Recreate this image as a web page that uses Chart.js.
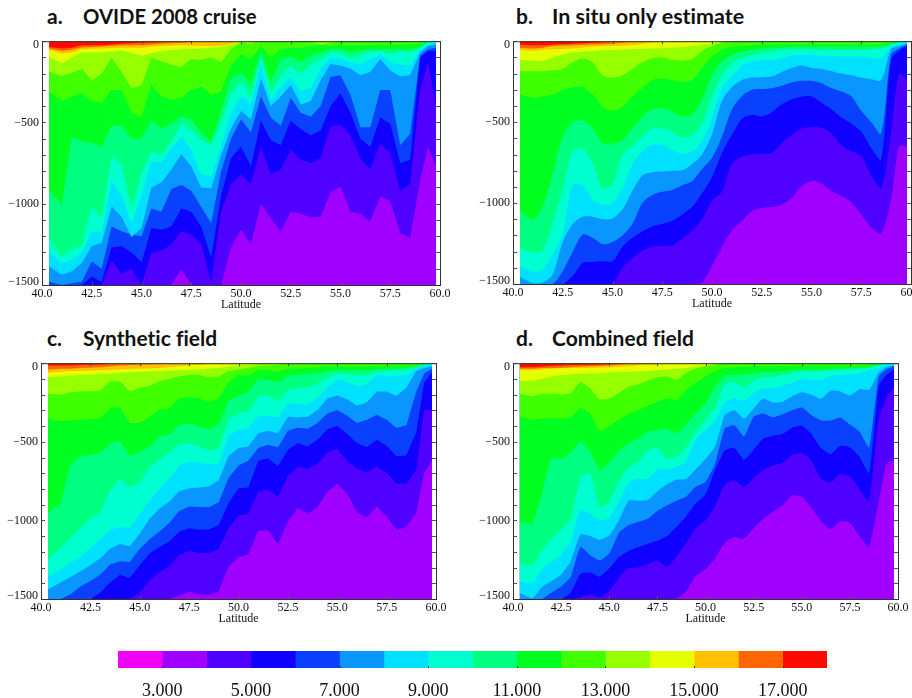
<!DOCTYPE html>
<html>
<head>
<meta charset="utf-8">
<style>
html, body { margin: 0; padding: 0; background: #fff; overflow: hidden; width: 912px; height: 698px; }
canvas { position: absolute; }
.ttl { position: absolute; font: bold 21px Lato, "Open Sans", sans-serif; color: #111; white-space: pre; line-height: 24px; font-variant-ligatures: none; }
</style>
</head>
<body>
<div class="ttl" style="left:47px;top:4px">a.</div><div class="ttl" style="left:83px;top:4px;font-size:20.3px">OVIDE 2008 cruise</div>
<div class="ttl" style="left:516px;top:4px">b.</div><div class="ttl" style="left:552px;top:4px;font-size:21.5px">In situ only estimate</div>
<div class="ttl" style="left:47px;top:326px">c.</div><div class="ttl" style="left:83px;top:326px">Synthetic field</div>
<div class="ttl" style="left:516px;top:326px">d.</div><div class="ttl" style="left:552px;top:326px">Combined field</div>
<canvas id="panelA"></canvas>
<canvas id="panelB"></canvas>
<canvas id="panelC"></canvas>
<canvas id="panelD"></canvas>
<canvas id="colorbar"></canvas>
<script src="https://cdn.jsdelivr.net/npm/chart.js@4/dist/chart.umd.min.js"></script>
<script>
// latitude grids: deep isotherms use lat, the thin surface ones latTop
const lat = [40.35,41,41.5,42,42.5,43,43.5,44,44.5,45,45.5,46,46.5,47,47.5,48,48.5,49,49.5,50,50.5,51,51.5,52,52.5,53,53.5,54,54.5,55,55.5,56,56.5,57,57.5,58,58.5,59,59.4,59.8];
const latTop = [40.35,41,41.5,42,43,44,45,46,47,48,49,50,51,59.8];
const latEnds = [40.35,59.8];
const floor3 = [-1500,-1500];

// colour scale, one band per degree
const bandEdges = [2,3,4,5,6,7,8,9,10,11,12,13,14,15,16,17,18];
const bandColors = ['#f000f5','#a000ff','#5000ff','#1000ff','#0a40ff','#0a96ff','#00e0ff','#00ffd0','#00ff80','#00ff20','#40ff00','#96ff00','#e6ff00','#ffc000','#ff6600','#ff0a00'];
const barTicks = [3,5,7,9,11,13,15,17];

// panel a, depth of each isotherm
const a17 = [-35,-45,-40,-25,-25,-15,-10,-5,0,0,0,0,0,0];
const a16 = [-45,-60,-52,-38,-32,-25,-25,-15,-10,0,0,0,0,0];
const a15 = [-55,-75,-70,-50,-45,-40,-40,-30,-25,-30,-30,0,0,0];
const a14 = [-95,-135,-100,-70,-70,-55,-90,-60,-50,-45,-35,-5,0,0];
const a13 = [-185,-215,-195,-170,-240,-200,-100,-190,-290,-270,-100,-125,-145,-160,-110,-115,-100,-130,-50,-10,-15,0,0,0,0,0,0,-20,-10,0,0,0,0,0,0,0,0,0,0,0];
const a12 = [-310,-370,-340,-320,-370,-380,-300,-300,-440,-465,-270,-340,-360,-350,-300,-280,-330,-310,-150,-80,-110,-30,-100,-50,-40,-40,-30,-25,-30,-25,-25,-25,-25,-20,-25,-20,-20,-15,0,0];
const a11 = [-915,-1005,-590,-615,-625,-650,-520,-520,-600,-600,-490,-535,-505,-460,-480,-560,-620,-430,-230,-195,-260,-65,-250,-110,-95,-130,-85,-70,-50,-50,-65,-55,-50,-50,-50,-50,-50,-35,0,0];
const a10 = [-1210,-1325,-1280,-1260,-1020,-1090,-710,-760,-1030,-810,-680,-700,-620,-505,-550,-610,-640,-500,-320,-250,-340,-95,-320,-210,-150,-200,-145,-110,-70,-70,-110,-85,-60,-60,-80,-60,-70,-40,-5,0];
const a9 = [-1295,-1365,-1345,-1300,-1170,-1180,-860,-950,-1120,-950,-740,-750,-660,-590,-670,-820,-830,-650,-440,-340,-390,-145,-360,-280,-220,-310,-290,-170,-100,-110,-130,-145,-110,-80,-130,-145,-150,-55,-20,-10];
const a8 = [-1385,-1437,-1416,-1365,-1260,-1240,-1017,-1080,-1205,-1150,-900,-870,-790,-695,-770,-900,-905,-700,-535,-430,-480,-230,-400,-340,-270,-390,-370,-240,-140,-150,-170,-210,-190,-110,-180,-215,-210,-70,-30,-20];
const a7 = [-1480,-1500,-1490,-1480,-1355,-1400,-1140,-1170,-1190,-1200,-1030,-1050,-910,-885,-920,-1020,-1120,-800,-600,-480,-560,-340,-470,-520,-350,-440,-465,-400,-220,-210,-330,-530,-530,-300,-300,-640,-570,-90,-50,-40];
const a6 = [-1500,-1500,-1500,-1500,-1450,-1480,-1270,-1260,-1300,-1360,-1150,-1160,-1140,-1030,-1050,-1140,-1330,-950,-720,-650,-770,-490,-610,-640,-490,-540,-580,-550,-400,-320,-440,-600,-650,-470,-510,-750,-730,-100,-60,-60];
const a5 = [-1500,-1500,-1500,-1500,-1500,-1500,-1350,-1430,-1400,-1500,-1300,-1290,-1250,-1170,-1190,-1250,-1480,-1050,-880,-820,-880,-650,-820,-790,-670,-730,-750,-720,-525,-515,-580,-720,-790,-630,-690,-920,-880,-300,-130,-400];
const a4 = [-1500,-1500,-1500,-1500,-1500,-1500,-1500,-1500,-1500,-1500,-1500,-1500,-1500,-1400,-1500,-1500,-1500,-1500,-1270,-1160,-1250,-1000,-1090,-1170,-1050,-1060,-1085,-1080,-930,-895,-1050,-1060,-1110,-955,-985,-1180,-1210,-860,-650,-770];

// panel b
const b17 = [-20,-25,-25,-20,-15,-10,-3,0,0,0,0,0,0,0];
const b16 = [-40,-45,-40,-30,-25,-20,-15,-5,0,0,0,0,0,0];
const b15 = [-55,-60,-55,-50,-45,-35,-30,-25,-8,0,0,0,0,0];
const b14 = [-115,-120,-120,-100,-70,-60,-55,-50,-45,-40,-30,-15,0,0];
const b13 = [-185,-185,-185,-180,-170,-130,-105,-130,-210,-225,-210,-170,-130,-105,-100,-115,-120,-110,-60,-30,-10,0,0,0,0,0,0,0,0,0,0,0,0,0,0,0,0,0,0,0];
const b12 = [-330,-350,-340,-330,-300,-285,-285,-330,-405,-430,-405,-340,-290,-240,-230,-240,-250,-240,-165,-95,-55,-35,-30,-25,-20,-20,-20,-20,-20,-20,-20,-20,-20,-20,-20,-20,-20,-10,0,0];
const b11 = [-1050,-1105,-1020,-815,-590,-500,-490,-540,-630,-635,-610,-540,-465,-420,-415,-435,-465,-455,-360,-210,-125,-85,-65,-55,-45,-40,-40,-35,-35,-35,-35,-35,-35,-35,-35,-35,-30,-15,0,0];
const b10 = [-1280,-1305,-1290,-1125,-920,-680,-665,-755,-910,-880,-700,-650,-590,-540,-540,-560,-595,-580,-505,-340,-210,-135,-105,-85,-75,-65,-55,-50,-50,-50,-55,-55,-55,-55,-55,-50,-45,-25,-10,0];
const b9 = [-1392,-1425,-1410,-1320,-1190,-888,-890,-980,-1010,-1000,-910,-760,-680,-640,-640,-670,-695,-680,-620,-470,-290,-220,-150,-125,-120,-115,-105,-90,-85,-85,-90,-90,-95,-95,-95,-100,-105,-35,-20,-10];
const b8 = [-1455,-1495,-1490,-1440,-1240,-1130,-1085,-1085,-1100,-1095,-1040,-925,-830,-810,-805,-800,-798,-760,-700,-575,-370,-285,-240,-225,-222,-218,-190,-165,-150,-165,-170,-185,-200,-210,-225,-235,-240,-50,-30,-15];
const b7 = [-1500,-1500,-1500,-1500,-1420,-1300,-1195,-1215,-1255,-1240,-1200,-1130,-1000,-950,-930,-920,-890,-865,-790,-720,-590,-420,-340,-300,-295,-290,-275,-255,-245,-245,-260,-290,-310,-340,-430,-500,-570,-85,-45,-20];
const b6 = [-1500,-1500,-1500,-1500,-1500,-1450,-1370,-1365,-1360,-1360,-1270,-1215,-1175,-1145,-1130,-1110,-1070,-1025,-940,-840,-690,-580,-480,-455,-465,-440,-390,-360,-342,-342,-380,-420,-470,-510,-560,-660,-730,-115,-60,-30];
const b5 = [-1500,-1500,-1500,-1500,-1500,-1500,-1500,-1500,-1500,-1500,-1400,-1340,-1295,-1270,-1265,-1262,-1220,-1170,-1100,-985,-930,-760,-715,-700,-695,-690,-630,-580,-540,-530,-535,-570,-645,-680,-710,-830,-905,-568,-200,-240];
const b4 = [-1500,-1500,-1500,-1500,-1500,-1500,-1500,-1500,-1500,-1500,-1500,-1500,-1500,-1500,-1500,-1500,-1500,-1500,-1490,-1390,-1270,-1170,-1110,-1050,-1030,-1025,-1010,-970,-895,-863,-880,-925,-955,-995,-1070,-1150,-1185,-980,-650,-650];

// panel c
const c17 = [-15,-15,-15,-12,-8,0,0,0,0,0,0,0,0,0];
const c16 = [-40,-35,-35,-30,-25,-15,-10,-5,0,0,0,0,0,0];
const c15 = [-60,-55,-50,-50,-45,-40,-35,-30,-20,-10,0,0,0,0];
const c14 = [-90,-85,-80,-75,-70,-60,-55,-50,-45,-40,-30,-15,-5,0];
const c13 = [-195,-200,-185,-180,-178,-175,-115,-115,-180,-155,-145,-115,-100,-85,-75,-75,-90,-85,-50,-40,-30,-20,-15,-10,-5,0,0,0,0,0,0,0,0,0,0,0,0,0,0,0];
const c12 = [-350,-370,-365,-360,-355,-350,-285,-280,-380,-380,-340,-295,-285,-225,-215,-225,-245,-225,-120,-75,-80,-45,-45,-55,-35,-35,-30,-25,-20,-20,-20,-20,-20,-18,-15,-15,-15,-10,0,0];
const c11 = [-954,-890,-640,-590,-585,-570,-510,-495,-590,-565,-530,-465,-455,-395,-385,-405,-420,-390,-240,-205,-180,-100,-105,-125,-80,-70,-70,-60,-50,-45,-45,-45,-45,-40,-35,-35,-30,-20,0,0];
const c10 = [-1250,-1175,-1110,-1049,-990,-950,-810,-735,-790,-760,-660,-610,-570,-515,-510,-530,-555,-540,-355,-318,-310,-210,-205,-240,-170,-160,-155,-130,-90,-65,-70,-80,-75,-55,-50,-45,-40,-30,-15,0];
const c9 = [-1356,-1310,-1270,-1229,-1175,-1120,-1060,-1040,-1049,-960,-875,-800,-735,-650,-625,-632,-645,-640,-460,-425,-410,-339,-333,-345,-255,-260,-262,-222,-155,-105,-120,-145,-135,-75,-80,-85,-75,-35,-20,-10];
const c8 = [-1440,-1395,-1360,-1324,-1285,-1240,-1180,-1150,-1165,-1085,-990,-925,-880,-815,-795,-790,-785,-745,-590,-540,-530,-445,-430,-445,-340,-345,-340,-297,-225,-205,-230,-270,-250,-180,-180,-208,-155,-50,-30,-20];
const c7 = [-1500,-1500,-1470,-1420,-1385,-1345,-1280,-1260,-1265,-1180,-1120,-1070,-1015,-940,-912,-915,-917,-885,-730,-650,-620,-540,-519,-535,-430,-410,-417,-381,-320,-297,-335,-380,-360,-328,-360,-413,-395,-180,-65,-35];
const c6 = [-1500,-1500,-1500,-1500,-1500,-1460,-1395,-1345,-1367,-1285,-1210,-1170,-1135,-1070,-1050,-1060,-1058,-1030,-890,-795,-790,-621,-604,-655,-550,-510,-530,-487,-420,-400,-450,-510,-535,-487,-525,-593,-585,-440,-127,-55];
const c5 = [-1500,-1500,-1500,-1500,-1500,-1500,-1500,-1500,-1500,-1460,-1380,-1330,-1290,-1220,-1195,-1208,-1208,-1180,-1050,-970,-960,-816,-805,-850,-720,-660,-670,-640,-570,-545,-625,-670,-695,-657,-699,-767,-767,-680,-300,-297];
const c4 = [-1500,-1500,-1500,-1500,-1500,-1500,-1500,-1500,-1500,-1500,-1500,-1500,-1500,-1480,-1452,-1470,-1475,-1450,-1293,-1235,-1215,-1066,-1065,-1150,-1010,-920,-960,-915,-820,-767,-830,-950,-980,-911,-975,-1060,-1040,-950,-700,-615];

// panel d
const d17 = [-25,-25,-22,-18,-12,-10,-5,0,0,0,0,0,0,0];
const d16 = [-35,-35,-30,-30,-25,-20,-15,-5,0,0,0,0,0,0];
const d15 = [-45,-45,-40,-35,-30,-30,-28,-20,-10,-5,0,0,0,0];
const d14 = [-115,-110,-100,-85,-70,-65,-60,-55,-50,-40,-30,-15,0,0];
const d13 = [-195,-210,-195,-195,-200,-190,-120,-160,-230,-225,-190,-150,-135,-110,-90,-85,-105,-60,-35,-20,-10,0,0,0,0,0,0,0,0,0,0,0,0,0,0,0,0,0,0,0];
const d12 = [-339,-360,-352,-350,-352,-345,-285,-320,-430,-400,-360,-325,-300,-270,-245,-225,-235,-170,-125,-85,-50,-30,-25,-25,-20,-20,-20,-18,-18,-15,-15,-15,-15,-15,-15,-15,-10,-5,0,0];
const d11 = [-1007,-1021,-830,-604,-610,-570,-500,-560,-680,-630,-560,-510,-480,-440,-425,-420,-445,-390,-320,-255,-150,-80,-75,-70,-65,-55,-55,-50,-45,-40,-40,-40,-35,-35,-30,-30,-25,-10,0,0];
const d10 = [-1275,-1285,-1190,-1115,-1060,-990,-730,-700,-915,-880,-750,-665,-630,-555,-536,-610,-595,-535,-440,-360,-280,-135,-120,-155,-110,-90,-90,-75,-65,-55,-55,-50,-45,-45,-40,-35,-30,-15,0,0];
const d9 = [-1388,-1400,-1310,-1265,-1220,-1135,-930,-960,-1000,-985,-880,-760,-735,-735,-675,-675,-660,-625,-480,-425,-370,-250,-225,-240,-190,-160,-160,-145,-125,-100,-105,-105,-80,-75,-72,-65,-45,-30,-15,-5];
const d8 = [-1462,-1495,-1425,-1385,-1345,-1260,-1090,-1100,-1125,-1095,-1000,-875,-875,-870,-815,-770,-740,-737,-675,-610,-530,-330,-300,-354,-290,-225,-250,-245,-210,-185,-200,-225,-175,-180,-205,-165,-170,-60,-25,-15];
const d7 = [-1500,-1500,-1500,-1460,-1420,-1360,-1170,-1220,-1255,-1210,-1080,-1030,-1010,-990,-940,-905,-875,-848,-785,-755,-640,-415,-395,-466,-340,-320,-345,-325,-300,-282,-330,-365,-365,-345,-390,-435,-535,-85,-40,-20];
const d6 = [-1500,-1500,-1500,-1500,-1500,-1460,-1340,-1330,-1358,-1305,-1235,-1195,-1170,-1150,-1130,-1100,-1040,-975,-890,-835,-680,-555,-540,-615,-550,-480,-460,-450,-410,-398,-450,-540,-580,-525,-535,-595,-700,-145,-75,-40];
const d5 = [-1500,-1500,-1500,-1500,-1500,-1500,-1490,-1470,-1490,-1450,-1365,-1305,-1299,-1280,-1254,-1297,-1230,-1144,-1050,-1000,-910,-773,-745,-790,-730,-680,-650,-635,-583,-572,-620,-735,-757,-705,-720,-800,-880,-360,-215,-150];
const d4 = [-1500,-1500,-1500,-1500,-1500,-1500,-1500,-1500,-1500,-1500,-1500,-1500,-1500,-1500,-1500,-1500,-1500,-1450,-1352,-1310,-1240,-1140,-1105,-1115,-1050,-990,-945,-905,-840,-850,-920,-1005,-1055,-1005,-1015,-1100,-1170,-880,-640,-615];

const serif = '"Liberation Serif", "DejaVu Serif", serif';

// frame and inward tick marks, like the original plots
const axisFrame = {
  id: 'axisFrame',
  afterDatasetsDraw(chart) {
    const { ctx, chartArea: a, scales } = chart;
    ctx.save();
    ctx.strokeStyle = '#555';
    ctx.lineWidth = 1;
    ctx.beginPath();
    scales.x.ticks.forEach(t => {
      const px = Math.round(scales.x.getPixelForValue(t.value)) + 0.5;
      ctx.moveTo(px, a.top); ctx.lineTo(px, a.top + 3);
      ctx.moveTo(px, a.bottom); ctx.lineTo(px, a.bottom - 3);
    });
    scales.y.ticks.forEach(t => {
      const py = Math.round(scales.y.getPixelForValue(t.value)) + 0.5;
      ctx.moveTo(a.left, py); ctx.lineTo(a.left + 4, py);
      ctx.moveTo(a.right, py); ctx.lineTo(a.right - 4, py);
    });
    ctx.stroke();
    ctx.strokeStyle = '#333';
    ctx.strokeRect(a.left + 0.5, a.top + 0.5, a.right - a.left, a.bottom - a.top);
    ctx.restore();
  }
};

function toPoints(xs, ys) {
  return xs.map((x, i) => ({ x: x, y: ys[i] }));
}

// the end labels of the depth axis sit a little inside the frame
function depthLabel(v) {
  if (v % 500 !== 0) return '';
  const text = String(v).replace('-', '\u2212');
  if (v === 0) return ['', text];
  if (v === -1500) return [text, ''];
  return text;
}

// painter's order: first dataset ends up on top, each one fills up to the surface
function panel(id, box, lines, tension) {
  const canvas = document.getElementById(id);
  const yWidth = 42, xHeight = 27, padTop = 10, padRight = 20;
  canvas.width = yWidth + box.w + padRight;
  canvas.height = padTop + box.h + xHeight;
  canvas.style.left = (box.x - yWidth) + 'px';
  canvas.style.top = (box.y - padTop) + 'px';

  const isotherms = [17,16,15,14,13,12,11,10,9,8,7,6,5,4];
  const datasets = lines.map((vals, i) => ({
    data: toPoints(i < 4 ? latTop : lat, vals),
    backgroundColor: bandColors[15 - i],
    fill: 'end',
    borderWidth: 0,
    pointRadius: 0,
    tension: tension,
    label: isotherms[i] + ''
  }));
  datasets.push({ data: toPoints(latEnds, floor3), backgroundColor: bandColors[1], fill: 'end', borderWidth: 0, pointRadius: 0, label: '3' });

  new Chart(canvas, {
    type: 'line',
    data: { datasets: datasets },
    plugins: [axisFrame],
    options: {
      responsive: false,
      animation: false,
      layout: { padding: { top: padTop, right: padRight, left: 0, bottom: 0 } },
      plugins: { legend: { display: false }, tooltip: { enabled: false } },
      scales: {
        x: {
          type: 'linear', min: 40, max: 60,
          grid: { display: false, drawTicks: false }, border: { display: false },
          afterFit: s => { s.height = xHeight; },
          ticks: { stepSize: 2.5, autoSkip: false, maxRotation: 0, padding: 2, color: '#111', font: { family: serif, size: 12 }, callback: v => v.toFixed(1) },
          title: { display: true, text: 'Latitude', color: '#111', padding: 0, font: { family: serif, size: 12 } }
        },
        y: {
          type: 'linear', min: -1500, max: 0,
          grid: { display: false, drawTicks: false }, border: { display: false },
          afterFit: s => { s.width = yWidth; },
          ticks: { stepSize: 100, autoSkip: false, padding: 3, color: '#111',
            font: c => ({ family: serif, size: 12, lineHeight: 0.6 }),
            callback: depthLabel }
        }
      }
    }
  });
}

panel('panelA', { x: 42, y: 41, w: 398, h: 244 }, [a17,a16,a15,a14,a13,a12,a11,a10,a9,a8,a7,a6,a5,a4], 0);
panel('panelB', { x: 513, y: 41, w: 398, h: 243 }, [b17,b16,b15,b14,b13,b12,b11,b10,b9,b8,b7,b6,b5,b4], 0.3);
panel('panelC', { x: 41, y: 363, w: 395, h: 236 }, [c17,c16,c15,c14,c13,c12,c11,c10,c9,c8,c7,c6,c5,c4], 0);
panel('panelD', { x: 513, y: 363, w: 385, h: 236 }, [d17,d16,d15,d14,d13,d12,d11,d10,d9,d8,d7,d6,d5,d4], 0.15);

// colour bar as floating horizontal bars on a temperature axis
const barCanvas = document.getElementById('colorbar');
barCanvas.width = 749;
barCanvas.height = 47;
barCanvas.style.left = '98px';
barCanvas.style.top = '651px';
new Chart(barCanvas, {
  type: 'bar',
  data: {
    labels: ['T'],
    datasets: bandColors.map((c, i) => ({
      data: [[bandEdges[i], bandEdges[i + 1]]],
      backgroundColor: c,
      borderWidth: 0,
      grouped: false,
      barPercentage: 1,
      categoryPercentage: 1
    }))
  },
  plugins: [{
    id: 'barTicks',
    afterDatasetsDraw(chart) {
      const { ctx, chartArea: a, scales } = chart;
      ctx.save();
      ctx.strokeStyle = '#333';
      ctx.beginPath();
      barTicks.forEach(v => {
        const px = Math.round(scales.x.getPixelForValue(v)) + 0.5;
        ctx.moveTo(px, a.bottom); ctx.lineTo(px, a.bottom - 2);
      });
      ctx.stroke();
      ctx.restore();
    }
  }],
  options: {
    indexAxis: 'y',
    responsive: false,
    animation: false,
    layout: { padding: { left: 20, right: 20, top: 0, bottom: 0 } },
    plugins: { legend: { display: false }, tooltip: { enabled: false } },
    scales: {
      x: {
        type: 'linear', min: 2, max: 18,
        grid: { display: false, drawTicks: false }, border: { display: false },
        afterFit: s => { s.height = 30; },
        afterBuildTicks: s => { s.ticks = barTicks.map(v => ({ value: v })); },
        ticks: { autoSkip: false, maxRotation: 0, padding: 12, color: '#111', font: { family: serif, size: 18 }, callback: v => v.toFixed(3) }
      },
      y: { display: false }
    }
  }
});
</script>
</body>
</html>
